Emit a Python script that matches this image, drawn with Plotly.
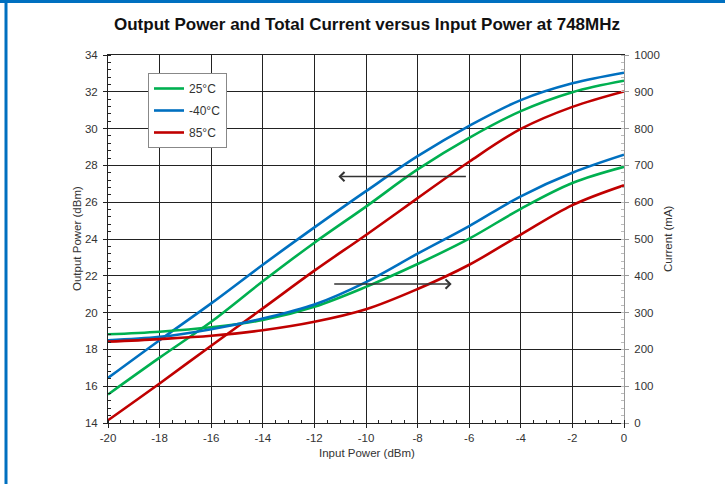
import plotly.graph_objects as go

# ---- data ----
input_power = [-20, -18, -16, -14, -12, -10, -8, -6, -4, -2, 0]

pout_25 = [15.55, 17.55, 19.5, 21.7, 23.8, 25.76, 27.78, 29.5, 30.95, 31.98, 32.6]
pout_m40 = [16.45, 18.5, 20.5, 22.6, 24.63, 26.6, 28.5, 30.15, 31.55, 32.46, 33.04]
pout_85 = [14.15, 16.15, 18.2, 20.23, 22.28, 24.22, 26.22, 28.2, 29.98, 31.18, 32.02]

curr_25 = [241, 248, 260, 280, 316, 370, 432, 501, 582, 652, 696]
curr_m40 = [225, 234, 255, 284, 322, 383, 460, 535, 616, 680, 729]
curr_85 = [221, 228, 237, 252, 275, 309, 364, 430, 512, 592, 646]

series_names = ["25°C", "-40°C", "85°C"]
series_colors = ["#00B050", "#0070C0", "#C00000"]

x_ticks = [-20, -18, -16, -14, -12, -10, -8, -6, -4, -2, 0]
y_ticks = [14, 16, 18, 20, 22, 24, 26, 28, 30, 32, 34]
y2_ticks = [0, 100, 200, 300, 400, 500, 600, 700, 800, 900, 1000]

title_text = "Output Power and Total Current versus Input Power at 748MHz"

FONT = "Liberation Sans, Arial, sans-serif"

fig = go.Figure()

pouts = [pout_25, pout_m40, pout_85]
currs = [curr_25, curr_m40, curr_85]

for i, (name, color) in enumerate(zip(series_names, series_colors)):
    fig.add_trace(go.Scatter(
        x=input_power, y=pouts[i], mode="lines", name=name,
        line=dict(color=color, width=2.6, shape="spline", smoothing=1),
        legendgroup=name, showlegend=True, yaxis="y"))
for i, (name, color) in enumerate(zip(series_names, series_colors)):
    fig.add_trace(go.Scatter(
        x=input_power, y=currs[i], mode="lines", name=name,
        line=dict(color=color, width=2.6, shape="spline", smoothing=1),
        legendgroup=name, showlegend=False, yaxis="y2"))

W, H = 725, 484
L, R, T, B = 108, 101, 55, 61
pw, ph = W - L - R, H - T - B

def px_x(p):
    return (p - L) / pw

def px_y(p):
    return (H - B - p) / ph

tickfont = dict(family=FONT, size=11.5, color="#333333")

fig.update_layout(
    width=W, height=H,
    margin=dict(l=L, r=R, t=T, b=B),
    paper_bgcolor="white", plot_bgcolor="white",
    font=dict(family=FONT, color="#333333"),
    title=dict(text="<b>" + title_text + "</b>", x=367 / W, xanchor="center",
               y=(H - 24) / H, yanchor="middle", yref="container",
               font=dict(family=FONT, size=17, color="#111111")),
    xaxis=dict(range=[-20, 0], tickvals=x_ticks, ticktext=[str(v) for v in x_ticks],
               showgrid=True, gridcolor="#222222", gridwidth=1,
               showline=True, linecolor="#222222", linewidth=1, mirror=True,
               ticks="outside", ticklen=4, tickcolor="#222222",
               minor=dict(ticks="inside", dtick=0.5, ticklen=3, tickcolor="#222222", showgrid=False),
               tickfont=tickfont, zeroline=False, fixedrange=True),
    yaxis=dict(range=[14, 34], tickvals=y_ticks,
               showgrid=True, gridcolor="#222222", gridwidth=1,
               showline=True, linecolor="#222222", linewidth=1,
               ticks="outside", ticklen=4, tickcolor="#222222", ticklabelstandoff=3,
               minor=dict(ticks="inside", dtick=0.4, ticklen=3, tickcolor="#222222", showgrid=False),
               tickfont=tickfont, zeroline=False, fixedrange=True),
    yaxis2=dict(range=[0, 1000], tickvals=y2_ticks, overlaying="y", side="right",
                showgrid=False, showline=True, linecolor="#999999", linewidth=1,
                ticks="outside", ticklen=4, tickcolor="#999999", ticklabelstandoff=3,
                minor=dict(ticks="inside", dtick=20, ticklen=3, tickcolor="#bbbbbb", showgrid=False),
                tickfont=tickfont, zeroline=False, fixedrange=True),
    legend=dict(x=px_x(148), y=px_y(73), xanchor="left", yanchor="top",
                bgcolor="white", bordercolor="#888888", borderwidth=1,
                font=dict(family=FONT, size=12, color="#333333"),
                traceorder="grouped", tracegroupgap=3, itemwidth=30),
    showlegend=True,
)

axis_title_font = dict(family=FONT, size=11.5, color="#333333")
fig.add_annotation(text="Input Power (dBm)", xref="paper", yref="paper",
                   x=px_x(367), y=px_y(453), xanchor="center", yanchor="middle",
                   showarrow=False, font=axis_title_font)
fig.add_annotation(text="Output Power (dBm)", xref="paper", yref="paper",
                   x=px_x(77), y=px_y(239), xanchor="center", yanchor="middle",
                   textangle=-90, showarrow=False, font=axis_title_font)
fig.add_annotation(text="Current (mA)", xref="paper", yref="paper",
                   x=px_x(668), y=px_y(239), xanchor="center", yanchor="middle",
                   textangle=-90, showarrow=False, font=axis_title_font)

# direction arrows
fig.add_annotation(x=-11.07, y=27.39, ax=-6.07, ay=27.39, xref="x", yref="y",
                   axref="x", ayref="y", text="", showarrow=True,
                   arrowhead=4, arrowsize=1.2, arrowwidth=1.5, arrowcolor="#333333")
fig.add_annotation(x=-6.68, y=21.55, ax=-11.29, ay=21.55, xref="x", yref="y",
                   axref="x", ayref="y", text="", showarrow=True,
                   arrowhead=4, arrowsize=1.2, arrowwidth=1.5, arrowcolor="#333333")

# blue frame edges (top and left)
fig.add_shape(type="line", xref="paper", yref="paper",
              x0=px_x(0), x1=px_x(W), y0=px_y(1.5), y1=px_y(1.5),
              line=dict(color="#0070C0", width=3))
fig.add_shape(type="line", xref="paper", yref="paper",
              x0=px_x(6), x1=px_x(6), y0=px_y(0), y1=px_y(H),
              line=dict(color="#0070C0", width=3))

fig.write_html("out.html", config={"displayModeBar": False},
               post_script="document.body.style.margin='0';")
